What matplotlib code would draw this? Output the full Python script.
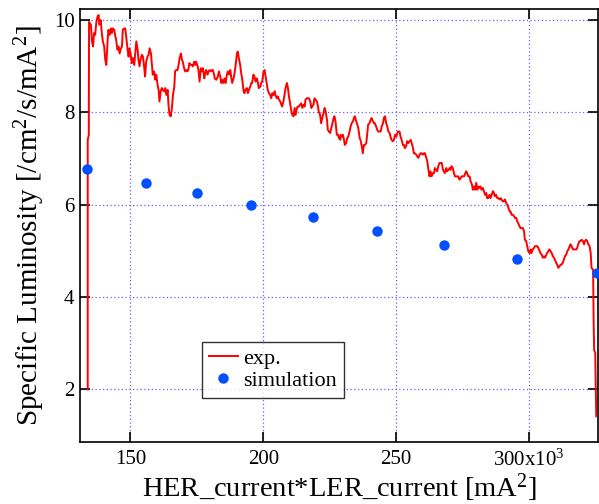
import matplotlib
matplotlib.use("Agg")
import matplotlib.pyplot as plt

plt.rcParams["font.family"] = ["Liberation Serif", "DejaVu Serif"]
plt.rcParams["mathtext.fontset"] = "custom"
plt.rcParams["mathtext.rm"] = "Liberation Serif"
plt.rcParams["mathtext.it"] = "Liberation Serif:italic"

# measured specific luminosity vs HER*LER current (x in units of 1e3 mA^2)
exp_x = [
    133.9, 133.9, 134.3, 134.4,
    134.7, 135.1, 135.5, 135.9, 136.3, 136.7, 137.1, 137.6, 138.0, 138.3,
    138.8, 139.2, 139.6, 140.1, 140.5, 140.9, 141.4, 141.7, 142.2, 142.6,
    143.0, 143.4, 143.9, 144.2, 144.6, 145.1, 145.5, 145.9, 146.4, 146.8,
    147.1, 147.6, 148.0, 148.4, 148.9, 149.3, 149.6, 150.1, 150.5, 150.9,
    151.4, 151.8, 152.2, 152.7, 153.0, 153.4, 153.9, 154.3, 154.7, 155.2,
    155.5, 155.9, 156.4, 156.8, 157.2, 157.7, 158.1, 158.4, 158.9, 159.3,
    159.7, 160.2, 160.6, 160.9, 161.4, 161.8, 162.2, 162.7, 163.1, 163.5,
    164.0, 164.3, 164.7, 165.2, 165.6, 166.0, 166.5, 166.8, 167.2, 167.7,
    168.1, 168.5, 169.0, 169.4, 169.7, 170.2, 170.6, 171.0, 171.5, 171.9,
    172.2, 172.7, 173.1, 173.5, 174.0, 174.4, 174.7, 175.3, 175.6, 176.0,
    176.5, 176.9, 177.3, 177.8, 178.1, 178.5, 179.0, 179.4, 179.8, 180.3,
    180.7, 181.0, 181.5,
    181.7, 182.3, 182.9, 183.3, 183.8, 184.2, 184.5, 185.0, 185.4, 185.8,
    186.3, 186.7, 187.1, 187.6, 187.9, 188.3, 188.8, 189.2, 189.6, 190.1,
    190.4, 190.8, 191.3, 191.7, 192.1, 192.6, 192.9, 193.3, 193.8, 194.2,
    194.6, 195.1, 195.5, 195.8, 196.3, 196.7, 197.1, 197.6, 198.0, 198.3,
    198.9, 199.2, 199.6, 200.1, 200.5, 200.9, 201.4, 201.7, 202.1, 202.6,
    203.0, 203.4, 203.9, 204.3, 204.6, 205.1, 205.5, 205.9, 206.4, 206.8,
    207.1, 207.6, 208.0, 208.4, 208.9, 209.3, 209.6, 210.1, 210.5, 210.9,
    211.4, 211.8, 212.2, 212.7, 213.0, 213.4, 213.9, 214.3, 214.7, 215.2,
    215.6, 215.9, 216.4, 216.8, 217.2, 217.7, 218.1, 218.4, 218.9, 219.3,
    219.7, 220.2, 220.6, 220.9, 221.4, 221.8, 222.2, 222.7, 223.1, 223.5,
    224.0, 224.3, 224.7, 225.2, 225.6, 226.0, 226.5, 226.8, 227.2, 227.7,
    228.1, 228.5, 229.0,
    229.1, 229.6, 230.0, 230.4, 230.7, 231.2, 231.6, 232.0, 232.5, 232.9,
    233.3, 233.8, 234.1, 234.5, 235.0, 235.4, 235.8, 236.3, 236.6, 237.0,
    237.5, 237.9, 238.3, 238.8, 239.2, 239.5, 240.0, 240.4, 240.8, 241.3,
    241.7, 242.0, 242.5, 242.9, 243.3, 243.8, 244.2, 244.6, 245.1, 245.4,
    245.8, 246.3, 246.7, 247.1, 247.6, 247.9, 248.3, 248.8, 249.2, 249.6,
    250.1, 250.5, 250.8, 251.3, 251.7, 252.1, 252.6, 253.0, 253.3, 253.8,
    254.2, 254.6, 255.1, 255.5, 255.9, 256.4, 256.7, 257.1, 257.6, 258.0,
    258.4, 258.9, 259.2, 259.6, 260.1, 260.5, 260.9, 261.4, 261.8, 262.1,
    262.6, 263.0, 263.4, 263.9, 264.3, 264.6, 265.1, 265.5, 265.9, 266.4,
    266.8, 267.2, 267.7, 268.0, 268.4, 268.9, 269.3, 269.7, 270.2, 270.5,
    270.9, 271.4, 271.8, 272.2, 272.7, 273.1, 273.4, 273.9, 274.3, 274.7,
    275.2, 275.6, 275.9, 276.4, 276.8, 277.2, 277.7,
    278.1, 278.6, 278.9, 279.3, 279.7, 280.2, 280.6, 281.0, 281.5, 281.8,
    282.2, 282.7, 283.1, 283.5, 284.0, 284.3, 284.7, 285.2, 285.6, 286.0,
    286.5, 286.9, 287.2, 287.7, 288.1, 288.5, 289.0, 289.4, 289.7, 290.2,
    290.6, 291.0, 291.5, 291.9, 292.3, 292.8, 293.1, 293.5, 294.0, 294.4,
    294.8, 295.3, 295.6, 296.0, 296.5, 296.9, 297.3, 297.8, 298.2, 298.5,
    299.0, 299.4, 299.8, 300.3, 300.7, 301.0, 301.5, 301.9, 302.3, 302.8,
    303.2, 303.6, 304.1, 304.4, 304.8, 305.3, 305.7, 306.1, 306.6, 306.9,
    307.3, 307.8, 308.2, 308.6, 309.1, 309.5, 309.8, 310.3, 310.7, 311.1,
    311.6, 312.0, 312.3, 312.8, 313.2, 313.6, 314.1, 314.5, 314.9, 315.4,
    315.7, 316.1, 316.6, 317.0, 317.4, 317.9, 318.2, 318.6, 319.1, 319.5,
    319.9, 320.4, 320.8, 321.1, 321.6, 322.0, 322.4, 322.9, 323.3, 323.6,
    324.2, 324.4, 324.6, 325.0, 325.4,
]
exp_y = [
    2.00, 7.40, 7.50, 9.95,
    9.92, 9.89, 9.53, 9.42, 9.71, 9.67, 9.92, 10.07, 10.10, 9.89,
    9.99, 9.71, 9.53, 9.42, 9.13, 9.02, 9.56, 9.78, 9.67, 9.81,
    9.71, 9.81, 9.78, 9.67, 9.56, 9.35, 9.42, 9.27, 9.38, 9.42,
    9.78, 9.81, 9.81, 9.63, 9.35, 9.20, 9.38, 9.24, 9.06, 9.17,
    9.02, 9.27, 9.53, 9.35, 9.13, 8.99, 9.17, 9.24, 9.20, 8.95,
    8.77, 9.09, 9.20, 9.24, 9.38, 9.27, 9.02, 8.81, 8.88, 8.70,
    8.81, 8.59, 8.48, 8.23, 8.45, 8.52, 8.48, 8.45, 8.52, 8.37,
    8.48, 8.16, 7.94, 7.91, 8.09, 8.37, 8.55, 8.88, 8.91, 8.91,
    9.02, 9.17, 9.27, 9.13, 9.09, 8.95, 8.88, 8.91, 8.88, 8.95,
    9.06, 9.02, 9.02, 8.99, 9.09, 9.02, 9.09, 8.99, 8.91, 8.66,
    8.95, 8.88, 8.95, 8.73, 8.84, 8.91, 8.81, 8.88, 8.91, 8.88,
    8.91, 8.91, 8.81,
    8.73, 8.70, 8.77, 8.88, 8.77, 8.63, 8.70, 8.63, 8.73, 8.63,
    8.81, 8.88, 8.81, 8.91, 8.77, 8.63, 8.73, 8.84, 9.02, 9.27,
    9.31, 9.17, 9.02, 8.84, 8.70, 8.45, 8.41, 8.48, 8.52, 8.41,
    8.48, 8.55, 8.63, 8.63, 8.81, 8.77, 8.66, 8.73, 8.63, 8.52,
    8.55, 8.63, 8.66, 8.88, 8.91, 8.77, 8.59, 8.48, 8.41, 8.37,
    8.30, 8.41, 8.37, 8.45, 8.37, 8.30, 8.34, 8.27, 8.23, 8.16,
    8.12, 8.23, 8.37, 8.52, 8.63, 8.52, 8.37, 8.19, 8.05, 7.94,
    7.91, 8.09, 7.94, 8.09, 8.12, 8.12, 8.16, 8.19, 8.09, 8.16,
    8.12, 8.27, 8.30, 8.30, 8.30, 8.23, 8.09, 8.12, 8.16, 8.30,
    8.27, 8.23, 8.12, 8.01, 7.94, 7.76, 7.87, 7.98, 8.09, 8.01,
    7.83, 7.62, 7.58, 7.55, 7.65, 7.76, 7.87, 7.91, 7.80, 7.51,
    7.51, 7.44, 7.40,
    7.51, 7.47, 7.51, 7.40, 7.29, 7.33, 7.44, 7.47, 7.58, 7.69,
    7.76, 7.80, 7.87, 7.91, 7.80, 7.73, 7.65, 7.44, 7.40, 7.29,
    7.11, 7.29, 7.29, 7.33, 7.55, 7.73, 7.76, 7.83, 7.87, 7.80,
    7.76, 7.76, 7.69, 7.62, 7.58, 7.58, 7.58, 7.69, 7.76, 7.87,
    7.91, 7.76, 7.69, 7.58, 7.55, 7.47, 7.40, 7.37, 7.40, 7.51,
    7.47, 7.55, 7.58, 7.58, 7.47, 7.40, 7.29, 7.29, 7.22, 7.26,
    7.37, 7.33, 7.37, 7.40, 7.33, 7.22, 7.11, 7.11, 7.08, 7.04,
    7.01, 7.08, 7.11, 7.11, 7.08, 7.11, 7.11, 7.01, 6.93, 6.79,
    6.61, 6.72, 6.61, 6.68, 6.68, 6.79, 6.75, 6.72, 6.83, 6.90,
    6.90, 6.90, 6.75, 6.72, 6.68, 6.79, 6.72, 6.75, 6.79, 6.75,
    6.83, 6.79, 6.68, 6.61, 6.61, 6.61, 6.61, 6.54, 6.57, 6.61,
    6.61, 6.61, 6.65, 6.72, 6.68, 6.61, 6.61,
    6.50, 6.43, 6.32, 6.39, 6.32, 6.47, 6.32, 6.39, 6.36, 6.39,
    6.32, 6.36, 6.29, 6.21, 6.25, 6.14, 6.14, 6.21, 6.14, 6.21,
    6.29, 6.25, 6.18, 6.21, 6.14, 6.14, 6.11, 6.14, 6.11, 6.07,
    6.07, 6.11, 6.03, 6.00, 5.93, 5.85, 5.85, 5.78, 5.78, 5.75,
    5.71, 5.71, 5.64, 5.60, 5.53, 5.49, 5.49, 5.49, 5.42, 5.24,
    5.21, 5.10, 4.99, 4.95, 5.03, 4.95, 5.03, 5.06, 5.10, 5.10,
    5.10, 5.06, 4.99, 4.95, 4.92, 4.85, 4.88, 4.85, 4.92, 4.95,
    4.99, 5.03, 4.99, 4.95, 4.88, 4.85, 4.81, 4.74, 4.70, 4.63,
    4.67, 4.70, 4.70, 4.74, 4.81, 4.88, 4.92, 4.99, 5.03, 5.10,
    5.14, 5.10, 5.03, 5.03, 5.03, 5.03, 5.06, 5.14, 5.21, 5.21,
    5.24, 5.21, 5.14, 5.21, 5.24, 5.21, 5.14, 5.10, 4.95, 4.63,
    4.59, 3.50, 2.85, 2.80, 1.42,
]

# simulation points
sim_x = [133.6, 155.8, 175.1, 195.5, 218.9, 242.7, 267.9, 295.6, 325.7]
sim_y = [6.77, 6.47, 6.25, 5.98, 5.74, 5.42, 5.12, 4.82, 4.52]

x_ticks = [150, 200, 250, 300]
x_tick_labels = ["150", "200", "250", r"300x10$^{3}$"]
y_ticks = [2, 4, 6, 8, 10]

fig = plt.figure(figsize=(5.99, 5.04), dpi=100)
ax = fig.add_axes([0.1336, 0.1236, 0.8645, 0.8585])

ax.plot(exp_x, exp_y, color="#ff0000", lw=1.4, label="exp.", zorder=3)
ax.plot(sim_x, sim_y, "o", color="#0050ff", ms=7.5, mec="none",
        label="simulation", zorder=4)

ax.set_xlim(131, 326)
ax.set_ylim(0.87, 10.23)
ax.set_xticks(x_ticks)
ax.set_xticklabels(x_tick_labels)
ax.set_yticks(y_ticks)

ax.grid(True, color="#6060ff", ls=(0, (1, 2)), lw=0.9)
ax.tick_params(direction="in", length=7, width=1.2, top=True, right=True,
               labelsize=15, colors="black")
ax.tick_params(axis="x", pad=6)
ax.tick_params(axis="y", pad=4)
for s in ax.spines.values():
    s.set_linewidth(1.2)

ax.set_xlabel(r"HER_current*LER_current [mA$^{2}$]", fontsize=20.5, labelpad=0)
ax.set_ylabel(r"Specific Luminosity [/cm$^{2}$/s/mA$^{2}$]", fontsize=21,
              labelpad=5)

leg = ax.legend(loc="upper left", bbox_to_anchor=(0.2355, 0.2304),
                borderaxespad=0, fontsize=16, frameon=True, fancybox=False,
                handlelength=1.3, handletextpad=0.25, borderpad=0.3,
                labelspacing=0.05)
leg.get_frame().set_edgecolor("black")
leg.get_frame().set_linewidth(1.0)

fig.savefig("out.png", dpi=100)
